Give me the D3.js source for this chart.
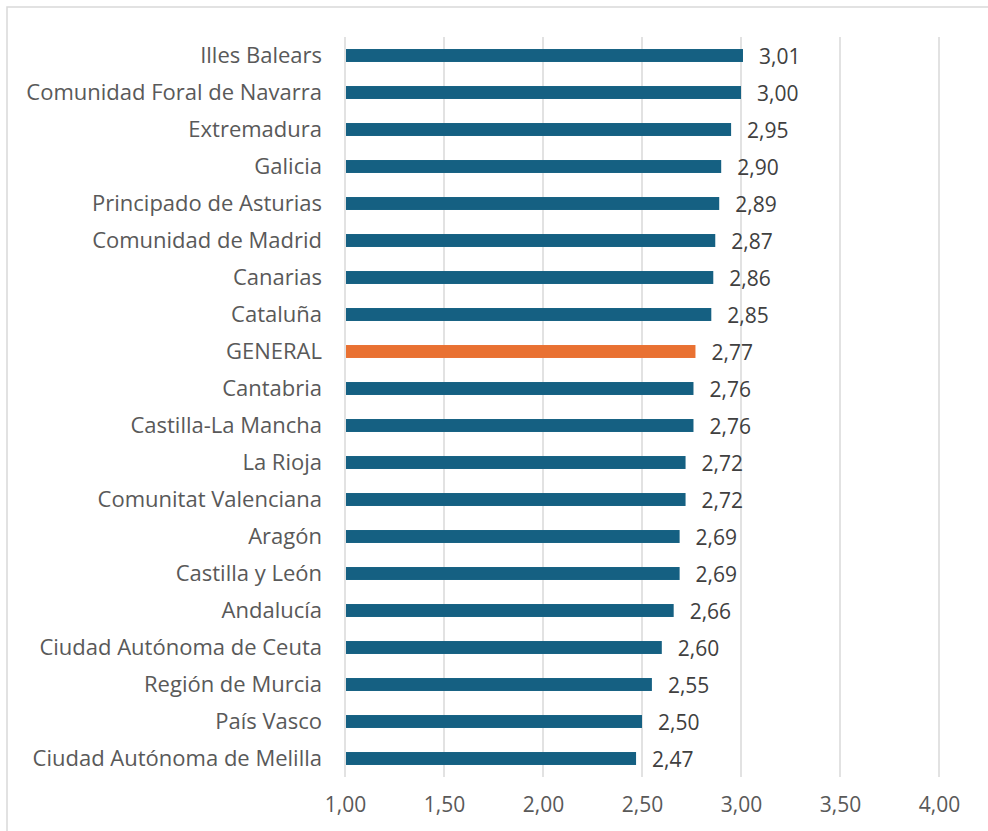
<!DOCTYPE html>
<html><head><meta charset="utf-8">
<script src="https://cdn.jsdelivr.net/npm/d3@7"></script>
<style>body{margin:0;background:#fff}svg{display:block}text{font-family:"Open Sans","Noto Sans",sans-serif}</style>
</head><body>
<script>
const categories = ["Illes Balears","Comunidad Foral de Navarra","Extremadura","Galicia","Principado de Asturias","Comunidad de Madrid","Canarias","Cataluña","GENERAL","Cantabria","Castilla-La Mancha","La Rioja","Comunitat Valenciana","Aragón","Castilla y León","Andalucía","Ciudad Autónoma de Ceuta","Región de Murcia","País Vasco","Ciudad Autónoma de Melilla"];
const values = [3.01,3.00,2.95,2.90,2.89,2.87,2.86,2.85,2.77,2.76,2.76,2.72,2.72,2.69,2.69,2.66,2.60,2.55,2.50,2.47];
const xTicks = [1.00,1.50,2.00,2.50,3.00,3.50,4.00];
const highlight = "GENERAL";

const W=988,H=831;
const svg=d3.select("body").append("svg").attr("width",W).attr("height",H);
svg.append("rect").attr("x",7).attr("y",7).attr("width",W).attr("height",H).attr("fill","#fff").attr("stroke","#d9d9d9").attr("stroke-width",1.5);

const x=d3.scaleLinear().domain([1,4]).range([345,939]);
const y=d3.scaleBand().domain(categories).range([37,777]).paddingInner(0.65).paddingOuter(0.325);
const fmt=d=>d.toFixed(2).replace(".",",");

// gridlines
svg.append("g").selectAll("line").data(xTicks).join("line")
 .attr("x1",d=>x(d)).attr("x2",d=>x(d)).attr("y1",37).attr("y2",777)
 .attr("stroke","#d9d9d9").attr("stroke-width",1.5);

// bars
svg.append("g").selectAll("rect").data(categories).join("rect")
 .attr("x",x(1)+1).attr("y",d=>y(d)).attr("height",y.bandwidth())
 .attr("width",(d,i)=>x(values[i])-x(1)-1)
 .attr("fill",d=>d===highlight?"#e97132":"#156082");

// value labels
svg.append("g").selectAll("text").data(categories).join("text")
 .attr("x",(d,i)=>x(values[i])+16).attr("y",d=>y(d)+y.bandwidth()/2+1).attr("dy","0.36em")
 .attr("font-size",21).attr("fill","#404040").text((d,i)=>fmt(values[i]));

// y axis labels
const ya=svg.append("g").attr("transform","translate(345,0)").call(d3.axisLeft(y).tickSize(0).tickPadding(23));
ya.select(".domain").remove();
ya.selectAll("text").attr("font-size",22).attr("fill","#595959").attr("font-family",null);

// x axis labels
const xa=svg.append("g").attr("transform","translate(0,777)").call(d3.axisBottom(x).tickValues(xTicks).tickSize(0).tickPadding(20).tickFormat(fmt));
xa.select(".domain").remove();
xa.selectAll("text").attr("font-size",21).attr("fill","#595959").attr("font-family",null);
</script>
</body></html>
